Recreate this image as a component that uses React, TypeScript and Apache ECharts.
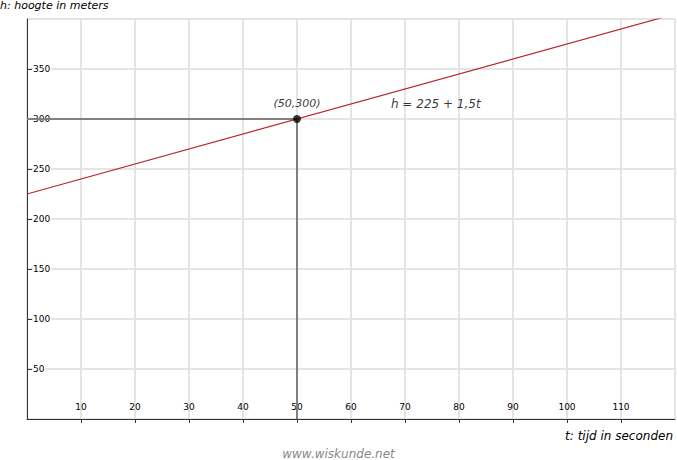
import React, { useEffect, useRef } from "react";
import * as echarts from "echarts";

const tValues = [0, 120];
const hValues = [225, 405];
const point = [50, 300];
const guideLine = [[0, 300], [50, 300], [50, 0]];
const formulaPos = [75.7, 315];
const formulaText = "h = 225 + 1,5t";
const pointText = "(50,300)";
const yTitle = "h: hoogte in meters";
const xTitle = "t: tijd in seconden";
const watermark = "www.wiskunde.net";

const FONT = "DejaVu Sans";

export default function App() {
  const ref = useRef<HTMLDivElement>(null);
  useEffect(() => {
    const chart = echarts.init(ref.current!, null, { renderer: "svg" });
    chart.setOption({
      animation: false,
      backgroundColor: "#fff",
      grid: { left: 27, top: 19, right: 2, bottom: 41 },
      xAxis: {
        type: "value",
        min: 0,
        max: 120,
        interval: 10,
        axisLine: { show: true, lineStyle: { color: "#333", width: 1 } },
        axisTick: { show: true, inside: false, length: 4, lineStyle: { color: "#333" } },
        axisLabel: {
          inside: true,
          margin: 8,
          showMinLabel: false,
          showMaxLabel: false,
          color: "#000",
          fontFamily: FONT,
          fontSize: 9,
        },
        splitLine: { show: true, lineStyle: { color: "#e4e4e4", width: 2 } },
      },
      yAxis: {
        type: "value",
        min: 0,
        max: 400,
        interval: 50,
        axisLine: { show: true, lineStyle: { color: "#333", width: 1 } },
        axisTick: { show: true, inside: true, length: 5, lineStyle: { color: "#333" } },
        axisLabel: {
          inside: true,
          margin: 6,
          showMinLabel: false,
          showMaxLabel: false,
          color: "#000",
          fontFamily: FONT,
          fontSize: 9,
          backgroundColor: "#fff",
          padding: [0, 1, 0, 0],
        },
        splitLine: { show: true, lineStyle: { color: "#e4e4e4", width: 2 } },
      },
      series: [
        {
          type: "line",
          data: guideLine,
          symbol: "none",
          lineStyle: { color: "#808080", width: 2 },
          z: 2,
        },
        {
          type: "line",
          data: tValues.map((t, i) => [t, hValues[i]]),
          symbol: "none",
          clip: true,
          lineStyle: { color: "#b8262b", width: 1.2 },
          z: 3,
        },
        {
          type: "scatter",
          data: [point],
          symbolSize: 8,
          itemStyle: { color: "#000" },
          label: {
            show: true,
            position: "top",
            distance: 6,
            formatter: pointText,
            color: "#000",
            fontFamily: FONT,
            fontStyle: "italic",
            fontSize: 11,
          },
          z: 4,
        },
        {
          type: "scatter",
          data: [formulaPos],
          symbolSize: 0,
          itemStyle: { color: "transparent" },
          label: {
            show: true,
            position: "inside",
            formatter: formulaText,
            color: "#000",
            fontFamily: FONT,
            fontStyle: "italic",
            fontSize: 12,
          },
          z: 4,
        },
      ],
      graphic: [
        {
          type: "text",
          left: 0,
          top: 0,
          style: { text: yTitle, fill: "#000", font: `italic 11px '${FONT}'` },
        },
        {
          type: "text",
          right: 4,
          top: 430,
          style: { text: xTitle, fill: "#000", font: `italic 12px '${FONT}'` },
        },
        {
          type: "text",
          left: "center",
          top: 448,
          style: { text: watermark, fill: "#888", font: `italic 12px '${FONT}'` },
        },
      ],
    });
    return () => chart.dispose();
  }, []);
  return <div ref={ref} style={{ width: 677, height: 460, position: "absolute", left: 0, top: 0 }} />;
}
